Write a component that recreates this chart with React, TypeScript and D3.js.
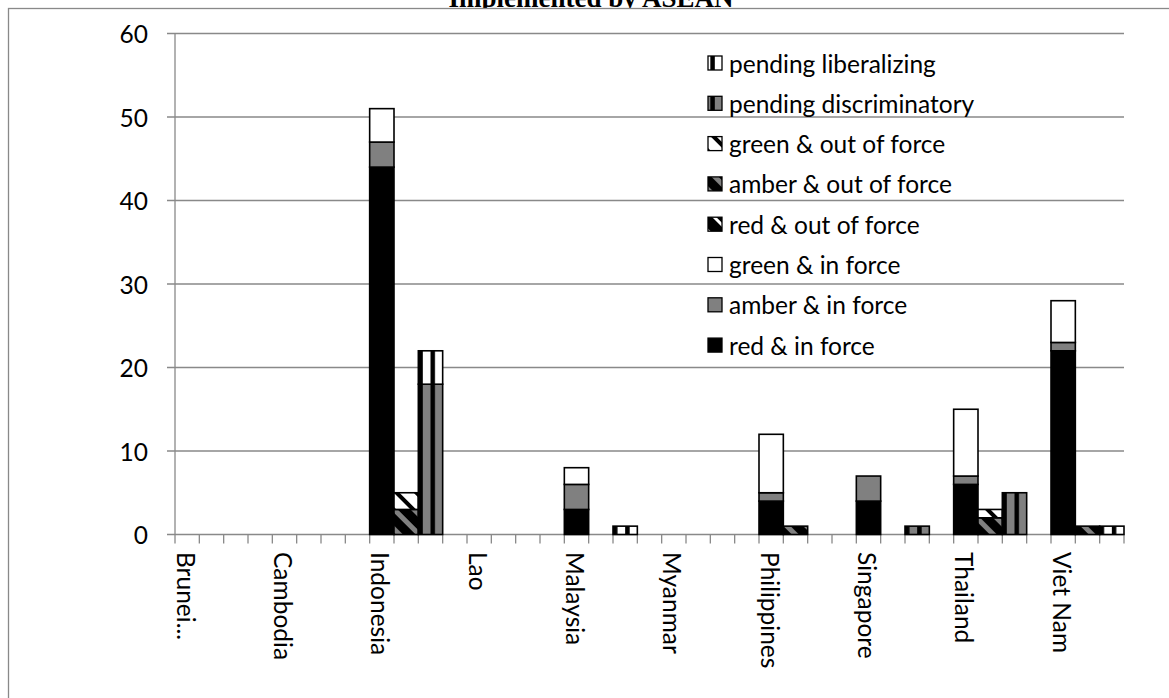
import * as d3 from "d3";

// ── Data ───────────────────────────────────────────────────
const COUNTRIES = ["Brunei...", "Cambodia", "Indonesia", "Lao", "Malaysia", "Myanmar", "Philippines", "Singapore", "Thailand", "Viet Nam"];
const RED_IN = [0, 0, 44, 0, 3, 0, 4, 4, 6, 22];
const AMBER_IN = [0, 0, 3, 0, 3, 0, 1, 3, 1, 1];
const GREEN_IN = [0, 0, 4, 0, 2, 0, 7, 0, 8, 5];
const RED_OUT = [0, 0, 0, 0, 0, 0, 0, 0, 0, 0];
const AMBER_OUT = [0, 0, 3, 0, 0, 0, 1, 0, 2, 1];
const GREEN_OUT = [0, 0, 2, 0, 0, 0, 0, 0, 1, 0];
const PEND_DISC = [0, 0, 18, 0, 0, 0, 0, 1, 5, 0];
const PEND_LIB = [0, 0, 4, 0, 1, 0, 0, 0, 0, 1];
const Y_TICKS = [0, 10, 20, 30, 40, 50, 60];

// legend, top to bottom
const LEGEND = [
  { label: "pending liberalizing", fill: "url(#pLib)" },
  { label: "pending discriminatory", fill: "url(#pDisc)" },
  { label: "green & out of force", fill: "url(#gOut)" },
  { label: "amber & out of force", fill: "url(#aOut)" },
  { label: "red & out of force", fill: "url(#rOut)" },
  { label: "green & in force", fill: "#ffffff" },
  { label: "amber & in force", fill: "#808080" },
  { label: "red & in force", fill: "#000000" },
];

const FONT = "Lato, 'Open Sans', sans-serif";
const FS = 24.5;
const GRID = "#898989";

// ── Layout ─────────────────────────────────────────────────
const W = 1169;
const H = 698;
const x0 = 175;
const x1 = 1124;
const yTop = 33.5;
const yBot = 534.5;

// 4 slots per country (in force, out of force, pending, gap), last gap dropped
const N_SLOTS = COUNTRIES.length * 4 - 1;
const slots = d3.range(N_SLOTS);
const x = d3.scaleBand<number>().domain(slots).range([x0, x1]).padding(0);
const y = d3.scaleLinear().domain([0, 60]).range([yBot, yTop]);
const bw = x.bandwidth();

function stack(slot: number, parts: { v: number; fill: string }[]) {
  let acc = 0;
  return parts
    .filter((p) => p.v > 0)
    .map((p, j) => {
      const a = acc;
      acc += p.v;
      return (
        <rect key={`${slot}-${j}`} x={x(slot)} y={y(acc)} width={bw} height={y(a) - y(acc)}
          fill={p.fill} stroke="#000" strokeWidth={1.6} />
      );
    });
}

export default function App() {
  const stripeX = x0;
  return (
    <div style={{ position: "absolute", left: 0, top: 0 }}>
      <svg width={W} height={H} style={{ display: "block" }}>
        <defs>
          <pattern id="pLib" patternUnits="userSpaceOnUse" x={stripeX} y={0} width={bw / 2} height={10}>
            <rect width={bw / 2} height={10} fill="#fff" />
            <rect width={4.5} height={10} fill="#000" />
          </pattern>
          <pattern id="pDisc" patternUnits="userSpaceOnUse" x={stripeX} y={0} width={bw / 2} height={10}>
            <rect width={bw / 2} height={10} fill="#808080" />
            <rect width={4.5} height={10} fill="#000" />
          </pattern>
          <pattern id="gOut" patternUnits="userSpaceOnUse" width={14} height={14} patternTransform="rotate(-45)">
            <rect width={14} height={14} fill="#fff" />
            <rect width={4} height={14} fill="#000" />
          </pattern>
          <pattern id="aOut" patternUnits="userSpaceOnUse" width={14} height={14} patternTransform="rotate(-45)">
            <rect width={14} height={14} fill="#000" />
            <rect width={5} height={14} fill="#808080" />
          </pattern>
          <pattern id="rOut" patternUnits="userSpaceOnUse" width={14} height={14} patternTransform="rotate(-45)">
            <rect width={14} height={14} fill="#000" />
            <rect width={3} height={14} fill="#fff" />
          </pattern>
        </defs>

        {/* caption sitting above the chart frame, mostly cut off */}
        <text x={591} y={6.5} textAnchor="middle" fontFamily="'Liberation Serif', 'Times New Roman', serif"
          fontWeight="bold" fontSize={27} fill="#000">Implemented by ASEAN</text>

        <rect x={8.5} y={8.5} width={W + 10} height={H + 10} fill="#fff" stroke={GRID} strokeWidth={1.3} />

        {/* gridlines + y axis */}
        {Y_TICKS.map((t) => (
          <g key={t}>
            <line x1={x0 - 8} x2={x1} y1={y(t)} y2={y(t)} stroke={GRID} strokeWidth={1.3} />
            <text x={148} y={y(t)} textAnchor="end" dominantBaseline="central" fontFamily={FONT} fontSize={FS} fill="#000">{t}</text>
          </g>
        ))}
        <line x1={x0} x2={x0} y1={yTop} y2={yBot} stroke={GRID} strokeWidth={1.3} />

        {/* x ticks at every slot boundary */}
        {[...slots, N_SLOTS].map((s) => {
          const px = s === N_SLOTS ? x1 : (x(s) as number);
          return <line key={`t${s}`} x1={px} x2={px} y1={yBot} y2={yBot + 9} stroke={GRID} strokeWidth={1.3} />;
        })}

        {/* bars */}
        {COUNTRIES.map((c, i) => (
          <g key={c}>
            {stack(4 * i, [
              { v: RED_IN[i], fill: "#000" },
              { v: AMBER_IN[i], fill: "#808080" },
              { v: GREEN_IN[i], fill: "#fff" },
            ])}
            {stack(4 * i + 1, [
              { v: RED_OUT[i], fill: "url(#rOut)" },
              { v: AMBER_OUT[i], fill: "url(#aOut)" },
              { v: GREEN_OUT[i], fill: "url(#gOut)" },
            ])}
            {stack(4 * i + 2, [
              { v: PEND_DISC[i], fill: "url(#pDisc)" },
              { v: PEND_LIB[i], fill: "url(#pLib)" },
            ])}
          </g>
        ))}

        {/* country labels, rotated */}
        {COUNTRIES.map((c, i) => {
          const cx = (x(4 * i) as number) + bw / 2 - 1;
          return (
            <text key={`l${c}`} transform={`translate(${cx},552) rotate(90)`} dominantBaseline="central"
              fontFamily={FONT} fontSize={FS} fill="#000">{c}</text>
          );
        })}

        {/* legend */}
        {LEGEND.map((d, i) => {
          const ly = 63 + i * 40.3;
          return (
            <g key={d.label}>
              <rect x={708} y={ly - 7} width={14} height={14} fill={d.fill} stroke="#000" strokeWidth={1.3} />
              <text x={729} y={ly} dominantBaseline="central" fontFamily={FONT} fontSize={FS} fill="#000">{d.label}</text>
            </g>
          );
        })}
      </svg>
    </div>
  );
}
